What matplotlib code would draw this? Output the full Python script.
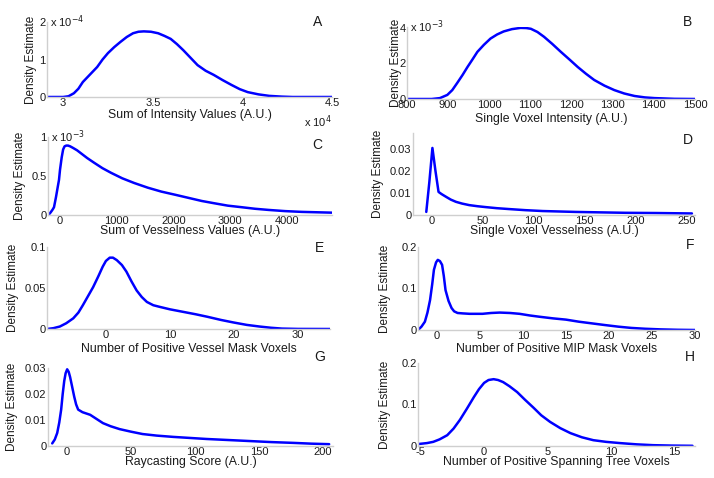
import matplotlib
matplotlib.use("Agg")
import matplotlib.pyplot as plt
from matplotlib.ticker import FuncFormatter, FixedLocator

plt.rcParams["font.family"] = ["Liberation Sans", "DejaVu Sans"]
plt.rcParams["font.size"] = 8.5

W, H = 714, 478

# ---- data ----
# A: sum of intensity values
a_x = [29100, 30000, 30300, 30600, 30850, 31100, 31500, 31900, 32200, 32500, 32850,
       33200, 33550, 33900, 34200, 34500, 34900, 35300, 35650, 36000, 36350, 36700,
       37100, 37500, 37950, 38400, 38900, 39400, 39850, 40300, 40900, 41500, 42200,
       42800, 45000]
a_y = [0, 0, 0.02e-4, 0.1e-4, 0.22e-4, 0.4e-4, 0.6e-4, 0.8e-4, 1.0e-4, 1.17e-4, 1.33e-4,
       1.47e-4, 1.6e-4, 1.7e-4, 1.74e-4, 1.75e-4, 1.74e-4, 1.7e-4, 1.63e-4, 1.55e-4,
       1.41e-4, 1.25e-4, 1.05e-4, 0.85e-4, 0.7e-4, 0.59e-4, 0.45e-4, 0.32e-4, 0.21e-4,
       0.13e-4, 0.07e-4, 0.03e-4, 0.01e-4, 0, 0]

# B: single voxel intensity
b_x = [800, 860, 880, 898, 910, 922, 935, 947, 959, 971, 987, 1003, 1019, 1035, 1055,
       1076, 1090, 1101, 1117, 1133, 1153, 1174, 1195, 1215, 1235, 1255, 1280, 1304,
       1328, 1353, 1378, 1402, 1450, 1500]
b_y = [0, 0, 0.05e-3, 0.23e-3, 0.5e-3, 0.9e-3, 1.35e-3, 1.8e-3, 2.22e-3, 2.65e-3,
       3.05e-3, 3.4e-3, 3.63e-3, 3.8e-3, 3.93e-3, 4.0e-3, 3.99e-3, 3.95e-3, 3.77e-3,
       3.5e-3, 3.1e-3, 2.65e-3, 2.22e-3, 1.8e-3, 1.42e-3, 1.07e-3, 0.75e-3, 0.5e-3,
       0.31e-3, 0.17e-3, 0.09e-3, 0.05e-3, 0.01e-3, 0]

# C: sum of vesselness values
c_x = [-212, -180, -159, -130, -106, -71, -40, -18, 0, 30, 55, 80, 110, 142, 180, 230,
       300, 372, 480, 602, 750, 903, 1100, 1310, 1550, 1788, 2030, 2265, 2500, 2726,
       2960, 3204, 3440, 3681, 3970, 4265, 4796]
c_y = [0, 0.02e-3, 0.04e-3, 0.07e-3, 0.1e-3, 0.23e-3, 0.36e-3, 0.45e-3, 0.58e-3,
       0.74e-3, 0.84e-3, 0.88e-3, 0.89e-3, 0.89e-3, 0.88e-3, 0.86e-3, 0.83e-3, 0.79e-3,
       0.73e-3, 0.67e-3, 0.6e-3, 0.54e-3, 0.47e-3, 0.41e-3, 0.35e-3, 0.3e-3, 0.26e-3,
       0.22e-3, 0.18e-3, 0.15e-3, 0.12e-3, 0.10e-3, 0.08e-3, 0.065e-3, 0.05e-3,
       0.04e-3, 0.03e-3]

# D: single voxel vesselness
d_x = [-5, -2, 1, 4, 7, 10, 14.6, 19, 24, 30, 37, 45, 53, 64, 76, 92, 109, 125, 141,
       165, 190, 220, 255]
d_y = [0.0014, 0.015, 0.0305, 0.02, 0.0105, 0.0095, 0.0082, 0.007, 0.006, 0.0052,
       0.0045, 0.004, 0.0036, 0.0031, 0.0027, 0.0022, 0.0018, 0.0016, 0.0014, 0.0012,
       0.001, 0.0009, 0.0007]

# E: number of positive vessel mask voxels
e_x = [-9.2, -8.2, -7.2, -6.2, -5.1, -4.3, -3.6, -2.8, -2, -1.2, -0.5, 0, 0.6, 1.1,
       1.7, 2.5, 3.2, 4.0, 4.8, 5.6, 6.4, 7.4, 8.4, 10, 12, 14, 15.8, 18, 19.9, 22, 24,
       25.8, 27.5, 30, 35]
e_y = [0, 0.001, 0.003, 0.007, 0.013, 0.02, 0.029, 0.04, 0.051, 0.064, 0.076, 0.083,
       0.087, 0.087, 0.084, 0.078, 0.07, 0.058, 0.047, 0.039, 0.033, 0.029, 0.027,
       0.024, 0.021, 0.018, 0.015, 0.011, 0.008, 0.005, 0.003, 0.0015, 0.0005, 0.0001, 0]

# F: number of positive MIP mask voxels
f_x = [-2.1, -1.8, -1.4, -1.1, -0.8, -0.55, -0.35, -0.1, 0.1, 0.35, 0.6, 0.8, 1.0,
       1.35, 1.7, 2.0, 2.4, 3.0, 3.8, 5.3, 6.3, 7.3, 8.5, 9.6, 10.8, 11.9, 13.5, 15,
       16.5, 18, 19.5, 21.1, 22.6, 24.2, 26, 28, 30]
f_y = [0.002, 0.008, 0.02, 0.042, 0.072, 0.11, 0.145, 0.163, 0.169, 0.166, 0.157,
       0.13, 0.096, 0.07, 0.053, 0.045, 0.041, 0.04, 0.039, 0.039, 0.041, 0.042, 0.041,
       0.039, 0.035, 0.032, 0.028, 0.025, 0.02, 0.016, 0.012, 0.008, 0.005, 0.003,
       0.0015, 0.0005, 0]

# G: raycasting score
g_x = [-11.7, -9.7, -7.8, -6.2, -4.7, -3.5, -2.3, -1.2, 0, 1.2, 2.3, 3.8, 5.5, 7, 8.6,
       12, 18, 23, 28, 34, 41, 50, 59, 70, 83, 96, 109, 126, 143, 160, 177, 191, 205]
g_y = [0.001, 0.0025, 0.005, 0.009, 0.014, 0.02, 0.025, 0.028, 0.0295, 0.0285, 0.0265,
       0.023, 0.019, 0.016, 0.014, 0.013, 0.012, 0.0104, 0.0088, 0.0076, 0.0065, 0.0055,
       0.0046, 0.004, 0.0035, 0.0031, 0.0027, 0.0023, 0.0019, 0.0015, 0.0012, 0.0009,
       0.0007]

# H: number of positive spanning tree voxels
h_x = [-5.1, -4.5, -4, -3.5, -2.9, -2.4, -1.9, -1.35, -0.8, -0.4, 0, 0.35, 0.75, 1.1,
       1.5, 2.0, 2.6, 3.2, 3.9, 4.5, 5.2, 6.0, 6.8, 7.7, 8.6, 9.6, 10.7, 12, 13.3, 14.8,
       16.4]
h_y = [0.005, 0.007, 0.01, 0.016, 0.026, 0.042, 0.063, 0.09, 0.118, 0.137, 0.152, 0.159,
       0.161, 0.159, 0.154, 0.144, 0.13, 0.112, 0.092, 0.074, 0.058, 0.043, 0.031, 0.021,
       0.014, 0.01, 0.007, 0.004, 0.002, 0.001, 0.0005]

panels = [
    # letter, x, y, xlabel, xlim, ylim, xticks, yticks, box(l, r, t, b) px, ylabel x px, xlabel y px
    ("A", a_x, a_y, "Sum of Intensity Values (A.U.)", (29100, 45000), (0, 2e-4),
     [30000, 35000, 40000, 45000], [0, 1e-4, 2e-4], (47, 332, 22, 97), 31, 115),
    ("B", b_x, b_y, "Single Voxel Intensity (A.U.)", (800, 1500), (0, 4.05e-3),
     list(range(800, 1501, 100)), [0, 2e-3, 4e-3], (407, 695, 27, 99), 396, 119),
    ("C", c_x, c_y, "Sum of Vesselness Values (A.U.)", (-212, 4800), (0, 1e-3),
     [0, 1000, 2000, 3000, 4000], [0, 0.5e-3, 1e-3], (48, 332, 137, 215), 20, 231),
    ("D", d_x, d_y, "Single Voxel Vesselness (A.U.)", (-18, 258), (0, 0.0373),
     [0, 50, 100, 150, 200, 250], [0, 0.01, 0.02, 0.03], (413, 695, 133, 215), 378, 231),
    ("E", e_x, e_y, "Number of Positive Vessel Mask Voxels", (-9.2, 35), (0, 0.1),
     [0, 10, 20, 30], [0, 0.05, 0.1], (47, 330, 247, 329), 13, 349),
    ("F", f_x, f_y, "Number of Positive MIP Mask Voxels", (-2.2, 30), (0, 0.2),
     [0, 5, 10, 15, 20, 25, 30], [0, 0.1, 0.2], (418, 695, 247, 330), 385, 349),
    ("G", g_x, g_y, "Raycasting Score (A.U.)", (-15, 208), (0, 0.03),
     [0, 50, 100, 150, 200], [0, 0.01, 0.02, 0.03], (48, 333, 368, 446), 12, 462),
    ("H", h_x, h_y, "Number of Positive Spanning Tree Voxels", (-5.2, 16.6), (0, 0.2),
     [-5, 0, 5, 10, 15], [0, 0.1, 0.2], (418, 695, 363, 446), 385, 462),
]

letter_pos = {"A": (318, 22), "B": (688, 22), "C": (317, 145), "D": (688, 140),
              "E": (320, 248), "F": (690, 245), "G": (320, 357), "H": (690, 357)}

# scale factors shown as "x 10^n" labels
yscale = {"A": 1e-4, "B": 1e-3, "C": 1e-3}
xscale = {"A": 1e4}

fig = plt.figure(figsize=(W / 100, H / 100), dpi=100)

for (letter, xs, ys, xlabel, xlim, ylim, xt, yt, box, ylx, xly) in panels:
    l, r, t, b = box
    ax = fig.add_axes([l / W, 1 - b / H, (r - l) / W, (b - t) / H])
    ax.plot(xs, ys, color="#0000ff", lw=1.8, solid_capstyle="round",
            solid_joinstyle="round")
    ax.set_xlim(*xlim)
    ax.set_ylim(*ylim)
    ax.xaxis.set_major_locator(FixedLocator(xt))
    ax.yaxis.set_major_locator(FixedLocator(yt))
    sy = yscale.get(letter, 1)
    sx = xscale.get(letter, 1)
    ax.yaxis.set_major_formatter(FuncFormatter(lambda v, p, s=sy: "%g" % round(v / s, 6)))
    ax.xaxis.set_major_formatter(FuncFormatter(lambda v, p, s=sx: "%g" % round(v / s, 6)))
    for s in ("top", "right"):
        ax.spines[s].set_visible(False)
    for s in ("left", "bottom"):
        ax.spines[s].set_color("#cfcfcf")
        ax.spines[s].set_linewidth(1.0)
    ax.tick_params(length=0, pad=1, labelsize=8, colors="#1a1a1a")
    ax.set_facecolor("none")

    ax.set_ylabel("Density Estimate", fontsize=8.5, color="#1a1a1a")
    ax.yaxis.set_label_coords((ylx - l) / (r - l), 0.5)
    ax.yaxis.label.set_va("center")
    ax.set_xlabel(xlabel, fontsize=8.8, color="#1a1a1a")
    ax.xaxis.set_label_coords(0.5, (b - xly) / (b - t))
    ax.xaxis.label.set_va("center")

    lx, ly = letter_pos[letter]
    fig.text(lx / W, 1 - ly / H, letter, fontsize=10, ha="center", va="center",
             color="#1a1a1a")

    if letter in yscale:
        exp = {1e-4: "-4", 1e-3: "-3"}[sy]
        ax.text(0.0, 1.0, " x 10$^{%s}$" % exp, transform=ax.transAxes, fontsize=8,
                ha="left", va="center", color="#1a1a1a")
    if letter in xscale:
        ax.text(1.0, (b - 122) / (b - t), "x 10$^{4}$", transform=ax.transAxes,
                fontsize=8, ha="right", va="center", color="#1a1a1a")

fig.savefig("out.png", dpi=100)
